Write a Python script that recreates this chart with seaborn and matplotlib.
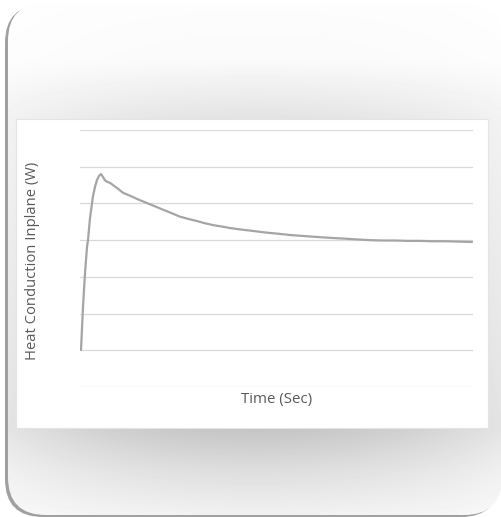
import numpy as np
import seaborn as sns
import matplotlib.pyplot as plt
from matplotlib.patches import FancyBboxPatch, Rectangle

# curve (time in arbitrary units, heat in gridline steps)
time = [1, 3, 5, 7, 8, 10, 13, 15, 17, 19, 21, 23, 25, 27, 30, 33, 38, 43,
        50, 58, 67, 75, 83, 92, 100, 108, 117, 125, 133, 142, 150, 158, 167,
        176, 185, 192, 200, 210, 220, 230, 240, 252, 265, 277, 290, 302,
        315, 327, 340, 352, 365, 378, 392]
heat = [1.01, 2.18, 3.1, 3.81, 4.0, 4.6, 5.2, 5.45, 5.64, 5.75, 5.80, 5.72,
        5.63, 5.59, 5.56, 5.50, 5.40, 5.29, 5.21, 5.11, 5.01, 4.92, 4.83,
        4.73, 4.64, 4.58, 4.52, 4.46, 4.41, 4.37, 4.33, 4.30, 4.27, 4.24,
        4.21, 4.19, 4.17, 4.14, 4.12, 4.10, 4.08, 4.06, 4.04, 4.02, 4.00,
        3.99, 3.99, 3.98, 3.98, 3.97, 3.97, 3.96, 3.95]
y_grid = [0, 1, 2, 3, 4, 5, 6, 7]

sns.set_theme(style='white')
plt.rcParams['font.family'] = ['Open Sans', 'DejaVu Sans']

W, H = 502, 517
fig = plt.figure(figsize=(W / 100, H / 100), dpi=100, facecolor='white')

# background frame in pixel coordinates
bg = fig.add_axes([0, 0, 1, 1])
bg.set_xlim(0, W)
bg.set_ylim(H, 0)
bg.axis('off')

shadow = FancyBboxPatch((5, 5), 494, 512, boxstyle='round,pad=0,rounding_size=38',
                        facecolor='#a0a0a0', edgecolor='none', zorder=0)
bg.add_patch(shadow)
frame = FancyBboxPatch((8, 3), 494, 512, boxstyle='round,pad=0,rounding_size=38',
                       facecolor='none', edgecolor='none', zorder=0)
bg.add_patch(frame)

ys = np.arange(H)
xs = np.arange(W)
dark = np.interp(ys, [0, 60, 118, 428, 470, 517], [0.01, 0.02, 0.11, 0.23, 0.13, 0.05])
edge = 1 - 0.55 * ((xs - 255) / 250.0) ** 2
grad = 1 - np.outer(dark, edge)
im = bg.imshow(grad, extent=[0, W, H, 0], cmap='gray', vmin=0, vmax=1,
               aspect='auto', interpolation='bilinear', zorder=1)
im.set_clip_path(frame)

card = Rectangle((16, 119), 472, 309, facecolor='white', edgecolor='#e4e4e4',
                 lw=0.8, zorder=2)
bg.add_patch(card)

# chart
ax = fig.add_axes([80 / W, 1 - 387 / H, 393 / W, 257 / H])
ax.patch.set_alpha(0)
sns.lineplot(x=time, y=heat, ax=ax, color='#a5a5a5', linewidth=1.6)
for g in y_grid:
    ax.axhline(g, color='#d9d9d9', linewidth=0.9, zorder=0)
ax.set_xlim(0, 393)
ax.set_ylim(0, 7)
ax.set_xticks([])
ax.set_yticks([])
for s in ax.spines.values():
    s.set_visible(False)

fig.text(277 / W, 1 - 400 / H, 'Time (Sec)', ha='center', va='center',
         fontsize=10.8, color='#595959')
fig.text(33 / W, 1 - 261 / H, 'Heat Conduction Inplane (W)', ha='center', va='center',
         rotation=90, fontsize=10.6, color='#595959')

fig.savefig('out.png', dpi=100)
